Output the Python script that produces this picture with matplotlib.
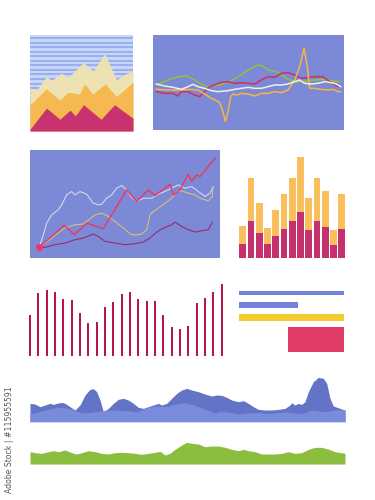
import numpy as np
import matplotlib
matplotlib.use("Agg")
import matplotlib.pyplot as plt

W, H = 375, 500

# --- panel 1: stacked area (x 0..100) ---
cream_x = [0, 6.5, 16, 21, 30.6, 37, 51.6, 61.3, 72.6, 83.9, 92, 100]
cream_y = [128, 122, 162, 150, 172, 158, 203, 178, 230, 152, 168, 180]
orange_x = [0, 16, 29, 37, 48, 53, 61, 73, 84, 100]
orange_y = [78, 125, 92, 115, 110, 140, 110, 140, 102, 145]
magenta_x = [0, 16, 29, 39, 44, 52, 69, 82, 100]
magenta_y = [5, 68, 35, 62, 45, 78, 35, 78, 38]

# --- panel 2: four wavy lines ---
green2_x = [25, 60, 90, 115, 140, 165, 180, 200, 230, 250, 270, 300, 330, 345, 360, 385, 400, 420, 440, 460, 480, 500, 525, 550, 575]
green2_y = [135, 150, 160, 162, 150, 135, 130, 132, 140, 148, 160, 180, 195, 192, 180, 175, 165, 152, 145, 145, 148, 150, 152, 148, 145]
mag2_x = [25, 50, 75, 90, 100, 120, 140, 155, 170, 185, 200, 215, 240, 260, 280, 300, 320, 340, 360, 380, 400, 420, 440, 460, 480, 500, 525, 545, 560, 575]
mag2_y = [115, 110, 110, 102, 115, 115, 105, 100, 115, 130, 135, 142, 145, 140, 142, 140, 138, 150, 160, 158, 170, 172, 165, 155, 158, 160, 160, 145, 135, 130]
white2_x = [25, 50, 75, 100, 120, 135, 150, 170, 190, 210, 240, 260, 280, 300, 320, 340, 360, 380, 400, 420, 440, 455, 470, 490, 510, 530, 550, 565, 578]
white2_y = [138, 132, 128, 122, 130, 137, 130, 125, 118, 115, 118, 122, 125, 128, 125, 125, 130, 135, 135, 138, 145, 150, 140, 138, 140, 145, 142, 138, 130]
orange2_x = [25, 60, 100, 130, 150, 170, 190, 205, 215, 225, 232, 240, 248, 255, 265, 280, 300, 320, 340, 360, 380, 400, 420, 440, 455, 468, 478, 485, 500, 520, 540, 555, 570, 578]
orange2_y = [122, 120, 120, 122, 120, 108, 95, 88, 82, 55, 25, 55, 100, 108, 105, 110, 108, 102, 110, 110, 115, 112, 120, 150, 190, 245, 190, 125, 125, 122, 120, 122, 115, 115]

# --- panel 3: four lines from a common start ---
red3_x = [43, 118, 148, 185, 235, 305, 335, 370, 390, 435, 445, 465, 490, 500, 515, 525, 570]
red3_y = [33, 98, 70, 105, 88, 205, 170, 205, 188, 222, 190, 205, 252, 230, 250, 245, 300]
white3_x = [43, 55, 65, 80, 100, 110, 125, 140, 150, 165, 185, 205, 220, 230, 245, 260, 275, 290, 305, 320, 335, 355, 380, 400, 430, 460, 480, 500, 520, 540, 555, 565]
white3_y = [33, 70, 105, 130, 145, 160, 190, 200, 190, 200, 192, 165, 160, 162, 180, 190, 210, 218, 205, 182, 170, 180, 180, 192, 205, 220, 210, 215, 200, 185, 195, 215]
khaki3_x = [43, 80, 118, 150, 175, 195, 210, 230, 250, 270, 295, 320, 335, 350, 365, 375, 385, 400, 420, 440, 455, 470, 490, 510, 530, 550, 562, 563]
khaki3_y = [33, 60, 90, 100, 102, 118, 130, 135, 125, 110, 90, 70, 70, 72, 85, 130, 140, 150, 165, 180, 200, 202, 195, 190, 178, 172, 185, 210]
plum3_x = [43, 60, 90, 120, 150, 175, 205, 220, 240, 270, 300, 330, 355, 375, 395, 415, 440, 450, 470, 490, 510, 530, 550, 562]
plum3_y = [33, 32, 40, 45, 55, 60, 72, 65, 50, 45, 40, 43, 48, 60, 78, 90, 100, 108, 95, 85, 78, 82, 85, 108]

# --- panel 4: stacked bars ---
bar_low = [43, 110, 75, 41, 65, 87, 110, 138, 83, 110, 92, 39, 87]
bar_total = [95, 242, 165, 91, 143, 192, 242, 305, 182, 242, 203, 85, 192]

# --- panel 5: thin vertical bars ---
thin_bars = [123, 188, 198, 193, 170, 168, 128, 100, 103, 148, 163, 186, 191, 171, 165, 165, 123, 86, 80, 91, 158, 173, 193, 216]

# --- panel 6: horizontal bars (percent of full width) ---
hbar_len = [100, 56, 100, 53]
hbar_colors = ["#7282d8", "#7282d8", "#f3cd2e", "#e03d66"]

# --- panel 7: blue mountains ---
dark7_x = [15, 30, 45, 60, 75, 85, 95, 110, 120, 135, 150, 165, 180, 195, 205, 215, 225, 235, 250, 265, 280, 295, 310, 325, 340, 355, 370, 385, 400, 410, 425, 440, 455, 470, 485, 500, 520, 540, 560, 575, 590, 605, 620, 640, 655, 670, 685, 700, 720, 740, 760, 780, 795, 800, 810, 820, 830, 840, 850, 865, 880, 895, 905, 915, 925, 945, 960]
dark7_y = [55, 53, 45, 50, 55, 52, 55, 58, 55, 45, 35, 50, 80, 97, 99, 90, 65, 30, 40, 55, 67, 70, 65, 55, 43, 40, 45, 50, 55, 50, 55, 70, 85, 95, 100, 95, 90, 83, 77, 80, 79, 73, 65, 60, 63, 55, 45, 37, 35, 35, 37, 40, 50, 57, 50, 55, 52, 60, 90, 120, 133, 130, 115, 70, 47, 40, 35]
light7_x = [15, 30, 50, 70, 90, 110, 130, 150, 170, 190, 210, 230, 250, 270, 290, 310, 330, 345, 360, 380, 400, 420, 440, 460, 480, 500, 520, 540, 560, 570, 580, 600, 620, 640, 660, 680, 700, 720, 740, 760, 780, 800, 820, 840, 860, 880, 900, 920, 940, 960]
light7_y = [25, 25, 32, 37, 42, 43, 40, 33, 27, 27, 30, 33, 35, 35, 33, 33, 30, 33, 40, 45, 47, 45, 50, 55, 57, 52, 45, 37, 30, 25, 30, 30, 27, 23, 25, 27, 27, 25, 25, 27, 30, 27, 25, 27, 35, 33, 30, 33, 37, 35]

# --- panel 8: green hills ---
green8_x = [15, 30, 50, 70, 85, 100, 120, 140, 155, 170, 190, 210, 230, 250, 270, 290, 310, 330, 350, 370, 390, 405, 420, 435, 450, 470, 485, 500, 520, 540, 560, 580, 600, 620, 640, 655, 670, 690, 710, 730, 750, 770, 790, 810, 830, 850, 870, 890, 910, 930, 960]
green8_y = [37, 34, 32, 37, 40, 37, 42, 34, 30, 34, 40, 37, 32, 30, 34, 35, 34, 32, 29, 32, 35, 38, 27, 32, 44, 57, 65, 62, 60, 52, 54, 54, 50, 44, 40, 44, 40, 37, 30, 30, 30, 32, 37, 32, 34, 44, 50, 50, 45, 37, 32]

BG_BLUE = "#7b89d6"


def px_axes(fig, left, top, right, bottom):
    ax = fig.add_axes([left / W, 1 - bottom / H, (right - left) / W, (bottom - top) / H])
    ax.set_xticks([])
    ax.set_yticks([])
    for s in ax.spines.values():
        s.set_visible(False)
    return ax


fig = plt.figure(figsize=(W / 100, H / 100), dpi=100)
fig.patch.set_facecolor("white")

# panel 1
ax1 = px_axes(fig, 30, 35, 133, 131)
ax1.set_facecolor("#c6d5f8")
for yy in np.arange(276, 0, -13.5):
    ax1.axhline(yy, color="#96abec", lw=1.3, zorder=0.5)
ax1.fill_between(cream_x, 0, cream_y, color="#efe2b2", lw=0, zorder=2)
ax1.fill_between(orange_x, 0, orange_y, color="#f6b952", lw=0, zorder=3)
ax1.fill_between(magenta_x, 0, magenta_y, color="#c8326e", lw=0, zorder=4)
ax1.set_xlim(0, 100)
ax1.set_ylim(0, 285)

# panel 2
ax2 = px_axes(fig, 153, 35, 344, 130)
ax2.set_facecolor(BG_BLUE)
ax2.plot(green2_x, green2_y, color="#8cc43f", lw=1.1)
ax2.plot(mag2_x, mag2_y, color="#cf2f62", lw=1.1)
ax2.plot(orange2_x, orange2_y, color="#f7b446", lw=1.1)
ax2.plot(white2_x, white2_y, color="#f3f0e0", lw=1.1)
ax2.set_xlim(15, 588)
ax2.set_ylim(0, 285)

# panel 3
ax3 = px_axes(fig, 30, 150, 220, 258)
ax3.set_facecolor(BG_BLUE)
ax3.plot(white3_x, white3_y, color="#d6d6e6", lw=0.8)
ax3.plot(khaki3_x, khaki3_y, color="#d3c27a", lw=0.8)
ax3.plot(plum3_x, plum3_y, color="#962d6c", lw=0.8)
ax3.plot(red3_x, red3_y, color="#ea3760", lw=1.0)
ax3.plot(red3_x[0], red3_y[0], "o", color="#ea3760", ms=5, mec="none")
ax3.set_xlim(15, 585)
ax3.set_ylim(0, 325)

# panel 4
ax4 = px_axes(fig, 239.3, 150, 345, 258)
idx = np.arange(len(bar_total))
upper = [t - l for t, l in zip(bar_total, bar_low)]
ax4.bar(idx, bar_low, width=0.82, color="#c5306f", lw=0)
ax4.bar(idx, upper, bottom=bar_low, width=0.82, color="#f8bf5c", lw=0)
ax4.set_xlim(-0.41, len(bar_total) - 0.59)
ax4.set_ylim(0, 325)

# panel 5
ax5 = px_axes(fig, 25.8, 280, 225.8, 356)
ax5.bar(np.arange(len(thin_bars)), thin_bars, width=0.22, color="#b5174a", lw=0)
ax5.set_xlim(-0.5, len(thin_bars) - 0.5)
ax5.set_ylim(0, 228)

# panel 6
ax6 = px_axes(fig, 239, 285, 344, 355)
rows = [(292.8, 4.5), (305, 6.5), (317.5, 7), (339.2, 25)]
for (yc, hh), ln, col in zip(rows, hbar_len, hbar_colors):
    ax6.barh(yc, ln, height=hh, left=100 - ln if col == "#e03d66" else 0, color=col, lw=0)
ax6.set_xlim(0, 100)
ax6.set_ylim(355, 285)

# panel 7
ax7 = px_axes(fig, 25, 370, 350, 421.7)
ax7.fill_between(dark7_x, 0, dark7_y, color="#6373c6", lw=0)
ax7.fill_between(light7_x, 0, light7_y, color="#7b8bdb", lw=0)
ax7.set_xlim(0, 975)
ax7.set_ylim(0, 155)

# panel 8
ax8 = px_axes(fig, 25, 436.7, 350, 464)
ax8.fill_between(green8_x, 0, green8_y, color="#8bbd3f", lw=0)
ax8.set_xlim(0, 975)
ax8.set_ylim(0, 82)

fig.text(10 / W, 1 - 386 / H, "Adobe Stock | #115955591", rotation=90,
         ha="center", va="top", fontsize=5.6, color="#555555")

fig.savefig("out.png", dpi=100, facecolor="white")
